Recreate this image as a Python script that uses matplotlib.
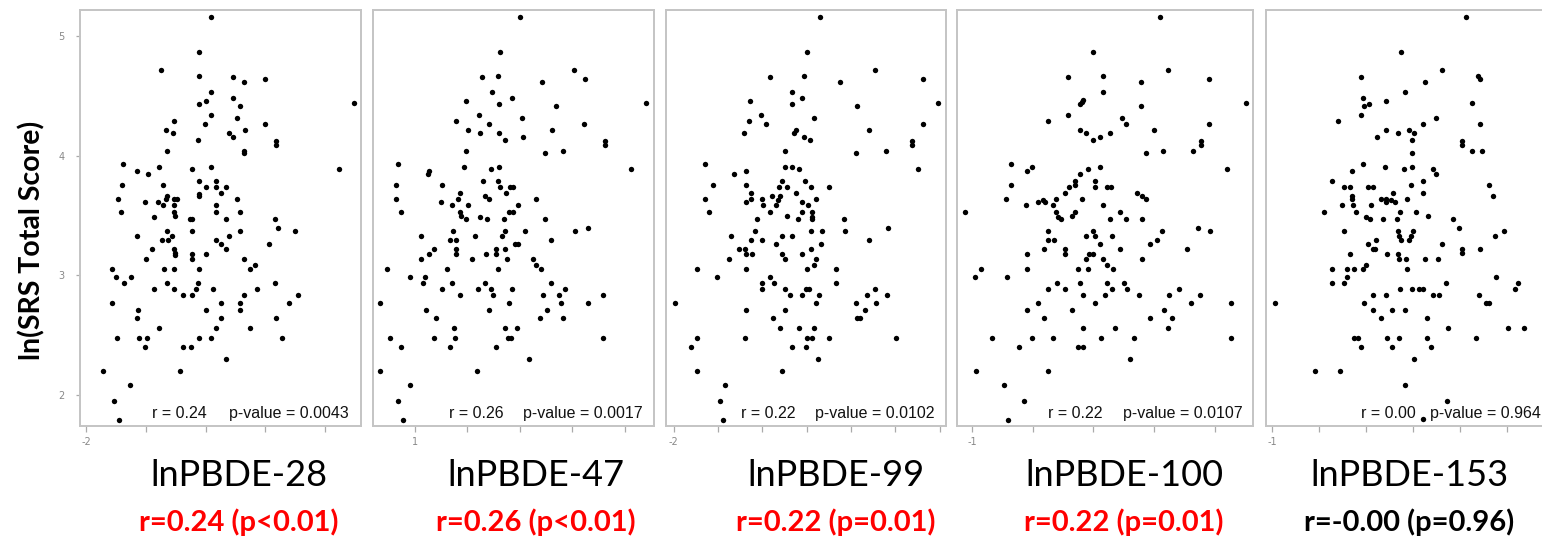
import matplotlib.pyplot as plt

W, H = 1542, 536

# points (x = ln PBDE, y = ln SRS total score)
pbde28 = [(0.09, 5.16), (-0.11, 4.87), (-0.74, 4.72), (-0.11, 4.67), (0.46, 4.66), (0.64, 4.62), (0.99, 4.64),
          (0.09, 4.53), (0.0, 4.46), (-0.11, 4.43), (0.46, 4.48), (0.58, 4.42), (2.49, 4.44), (-0.53, 4.29),
          (0.09, 4.34), (-0.01, 4.27), (0.53, 4.32), (0.99, 4.27), (-0.66, 4.22), (-0.54, 4.19), (0.39, 4.19),
          (0.46, 4.16), (0.66, 4.22), (-0.13, 4.13), (1.18, 4.12), (1.18, 4.09), (-0.65, 4.04), (0.64, 4.04),
          (0.64, 4.02), (-1.38, 3.93), (-0.78, 3.91), (-0.23, 3.89), (0.09, 3.91), (2.24, 3.89), (-1.14, 3.87),
          (-0.97, 3.85), (-0.11, 3.79), (-1.40, 3.76), (-0.72, 3.76), (0.0, 3.74), (-0.11, 3.68), (-0.11, 3.66),
          (0.18, 3.79), (0.18, 3.74), (0.25, 3.69), (0.34, 3.74), (-1.47, 3.64), (-0.65, 3.66), (-0.66, 3.64),
          (-0.53, 3.64), (-0.47, 3.64), (-1.02, 3.61), (-0.79, 3.61), (-0.72, 3.59), (-0.53, 3.59), (0.18, 3.59),
          (0.53, 3.64), (-1.41, 3.53), (-0.53, 3.53), (-0.51, 3.50), (0.18, 3.53), (0.58, 3.53), (-0.87, 3.49),
          (-0.26, 3.47), (-0.22, 3.47), (0.34, 3.47), (1.16, 3.47), (1.22, 3.40), (-0.64, 3.37), (-0.23, 3.37),
          (0.58, 3.37), (1.49, 3.37), (-1.15, 3.33), (-0.56, 3.33), (0.40, 3.33), (-0.73, 3.30), (-0.62, 3.30),
          (0.18, 3.30), (0.25, 3.26), (1.06, 3.26), (-0.90, 3.22), (-0.53, 3.22), (-0.51, 3.19), (0.34, 3.22),
          (-0.23, 3.18), (0.0, 3.18), (-0.51, 3.17), (-0.22, 3.14), (-0.99, 3.14), (0.64, 3.14), (0.83, 3.09),
          (0.74, 3.05), (-1.57, 3.05), (-0.69, 3.05), (-0.52, 3.05), (-0.11, 3.05), (-1.50, 2.99), (-1.25, 2.99),
          (-1.36, 2.94), (-0.65, 2.94), (-0.13, 2.94), (1.16, 2.94), (-0.87, 2.89), (-0.52, 2.89), (-0.16, 2.89),
          (0.13, 2.89), (0.86, 2.89), (-0.37, 2.84), (-0.23, 2.84), (0.64, 2.84), (1.54, 2.84), (-1.56, 2.77),
          (0.25, 2.77), (0.58, 2.77), (1.40, 2.77), (-1.13, 2.71), (0.0, 2.71), (0.58, 2.71), (-1.15, 2.64),
          (0.25, 2.64), (1.18, 2.64), (-0.78, 2.56), (0.18, 2.56), (0.74, 2.56), (-1.48, 2.48), (-1.11, 2.48),
          (-0.98, 2.48), (-0.11, 2.48), (0.09, 2.48), (1.28, 2.48), (-1.02, 2.40), (-0.37, 2.40), (-0.25, 2.40),
          (0.34, 2.30), (-1.72, 2.20), (-0.42, 2.20), (-1.27, 2.08), (-1.53, 1.95), (-1.44, 1.79)]

pbde47 = [(3.01, 5.16), (2.62, 4.87), (4.04, 4.72), (2.28, 4.66), (2.59, 4.67), (4.24, 4.64), (3.42, 4.62),
          (2.47, 4.53), (1.97, 4.46), (2.85, 4.48), (2.60, 4.43), (5.41, 4.44), (3.70, 4.42), (2.22, 4.34),
          (3.04, 4.32), (1.78, 4.29), (2.42, 4.27), (4.23, 4.27), (2.02, 4.22), (3.62, 4.22), (2.25, 4.19),
          (2.61, 4.19), (3.07, 4.16), (2.71, 4.13), (4.62, 4.12), (4.62, 4.09), (1.97, 4.04), (3.49, 4.02),
          (3.82, 4.04), (0.68, 3.93), (1.94, 3.91), (2.61, 3.91), (2.46, 3.89), (5.13, 3.89), (1.27, 3.87),
          (1.24, 3.85), (2.29, 3.79), (1.52, 3.76), (0.63, 3.76), (2.59, 3.79), (2.63, 3.74), (2.81, 3.74),
          (2.87, 3.74), (1.85, 3.69), (2.73, 3.69), (2.34, 3.66), (2.42, 3.64), (0.63, 3.64), (1.82, 3.64),
          (1.49, 3.61), (1.70, 3.59), (2.02, 3.59), (2.96, 3.59), (3.30, 3.64), (0.73, 3.53), (1.85, 3.53),
          (2.80, 3.53), (2.87, 3.53), (1.88, 3.50), (2.25, 3.49), (1.98, 3.47), (2.37, 3.47), (2.70, 3.47),
          (3.48, 3.47), (4.31, 3.40), (1.73, 3.37), (2.72, 3.37), (3.10, 3.37), (4.06, 3.37), (1.11, 3.33),
          (2.15, 3.33), (2.66, 3.33), (1.67, 3.30), (1.79, 3.30), (3.60, 3.30), (2.90, 3.26), (2.96, 3.26),
          (1.36, 3.22), (1.79, 3.22), (2.54, 3.22), (2.71, 3.22), (1.27, 3.18), (1.79, 3.18), (2.35, 3.18),
          (2.55, 3.18), (1.11, 3.14), (2.08, 3.14), (2.76, 3.14), (3.26, 3.14), (3.31, 3.09), (0.46, 3.05),
          (1.61, 3.05), (2.59, 3.05), (3.40, 3.05), (0.90, 2.99), (1.19, 2.99), (1.15, 2.94), (1.70, 2.94),
          (2.34, 2.94), (3.60, 2.94), (1.52, 2.89), (2.21, 2.89), (2.46, 2.89), (2.85, 2.89), (3.87, 2.89),
          (1.85, 2.84), (2.48, 2.84), (3.44, 2.84), (3.75, 2.84), (4.59, 2.84), (0.33, 2.77), (2.79, 2.77),
          (3.79, 2.77), (4.31, 2.77), (1.22, 2.71), (2.41, 2.71), (3.52, 2.71), (1.40, 2.64), (3.39, 2.64),
          (3.83, 2.64), (1.75, 2.56), (2.71, 2.56), (2.94, 2.56), (0.52, 2.48), (1.36, 2.48), (1.77, 2.48),
          (2.78, 2.48), (2.84, 2.48), (4.59, 2.48), (0.73, 2.40), (1.67, 2.40), (2.55, 2.40), (3.18, 2.30),
          (0.33, 2.20), (2.18, 2.20), (0.90, 2.08), (0.68, 1.95), (0.77, 1.79)]

pbde99 = [(1.29, 5.16), (1.01, 4.87), (2.53, 4.72), (0.17, 4.66), (0.95, 4.67), (3.62, 4.64), (1.74, 4.62),
          (0.68, 4.53), (-0.28, 4.46), (0.90, 4.48), (0.68, 4.43), (3.96, 4.44), (2.14, 4.42), (-0.02, 4.34),
          (1.16, 4.32), (-0.30, 4.29), (0.08, 4.27), (3.62, 4.27), (0.76, 4.22), (2.40, 4.22), (-0.41, 4.19),
          (0.72, 4.19), (0.94, 4.16), (1.08, 4.13), (3.38, 4.12), (3.38, 4.09), (0.52, 4.04), (2.11, 4.02),
          (2.79, 4.04), (-1.28, 3.93), (0.51, 3.91), (0.68, 3.91), (0.82, 3.89), (3.51, 3.89), (-0.63, 3.85),
          (-0.37, 3.87), (0.44, 3.79), (0.97, 3.79), (-1.10, 3.76), (-0.37, 3.76), (0.38, 3.74), (0.56, 3.74),
          (1.09, 3.74), (1.51, 3.74), (0.77, 3.69), (-0.26, 3.69), (0.23, 3.66), (0.39, 3.66), (-1.29, 3.64),
          (-0.26, 3.64), (-0.01, 3.64), (1.21, 3.64), (-0.37, 3.61), (0.35, 3.63), (0.89, 3.61), (0.02, 3.59),
          (0.32, 3.59), (1.04, 3.59), (-1.20, 3.53), (0.17, 3.53), (1.11, 3.53), (0.89, 3.53), (0.56, 3.50),
          (1.11, 3.49), (-0.11, 3.47), (0.81, 3.47), (1.84, 3.47), (1.11, 3.47), (2.84, 3.40), (-0.17, 3.37),
          (1.09, 3.37), (1.35, 3.37), (1.86, 3.37), (-0.70, 3.33), (0.45, 3.33), (0.68, 3.33), (-0.26, 3.30),
          (-0.01, 3.30), (2.40, 3.30), (0.32, 3.26), (1.32, 3.26), (-0.53, 3.22), (-0.38, 3.22), (1.09, 3.22),
          (-0.36, 3.18), (-0.24, 3.18), (0.45, 3.18), (0.90, 3.18), (-0.74, 3.14), (0.52, 3.14), (1.21, 3.14),
          (1.17, 3.09), (-1.48, 3.05), (-0.37, 3.05), (1.01, 3.05), (1.65, 3.05), (-1.02, 2.99), (0.17, 2.99),
          (-0.01, 2.94), (0.26, 2.94), (1.65, 2.94), (-0.01, 2.89), (0.52, 2.89), (0.98, 2.89), (1.05, 2.89),
          (2.53, 2.89), (0.62, 2.84), (0.89, 2.84), (1.27, 2.84), (2.36, 2.84), (2.80, 2.84), (-1.96, 2.77),
          (1.21, 2.77), (2.11, 2.77), (2.57, 2.77), (-0.37, 2.71), (0.52, 2.71), (2.32, 2.71), (0.25, 2.64),
          (2.14, 2.64), (2.20, 2.64), (0.40, 2.56), (0.83, 2.56), (1.16, 2.56), (-1.47, 2.48), (-0.39, 2.48),
          (1.01, 2.48), (1.12, 2.48), (1.51, 2.48), (3.02, 2.48), (-1.60, 2.40), (0.68, 2.40), (0.98, 2.40),
          (1.25, 2.30), (-1.48, 2.20), (0.45, 2.20), (-0.85, 2.08), (-0.95, 1.95), (-0.89, 1.79)]

pbde100 = [(2.09, 5.16), (0.99, 4.87), (2.23, 4.72), (0.58, 4.66), (1.15, 4.67), (2.90, 4.64), (1.79, 4.62),
           (1.15, 4.53), (0.83, 4.47), (0.81, 4.45), (0.77, 4.43), (3.52, 4.44), (1.79, 4.42), (0.58, 4.34),
           (1.47, 4.32), (1.53, 4.27), (0.25, 4.29), (2.90, 4.27), (0.78, 4.22), (2.00, 4.22), (0.87, 4.19),
           (1.27, 4.19), (1.10, 4.16), (0.99, 4.13), (2.77, 4.12), (2.77, 4.09), (1.87, 4.02), (2.14, 4.04),
           (2.64, 4.04), (-0.36, 3.93), (-0.01, 3.91), (1.10, 3.91), (0.91, 3.89), (3.20, 3.89), (-0.10, 3.87),
           (0.77, 3.85), (0.69, 3.79), (1.02, 3.79), (-0.36, 3.76), (0.59, 3.74), (0.69, 3.76), (1.02, 3.74),
           (1.23, 3.74), (1.29, 3.74), (0.53, 3.69), (1.71, 3.69), (1.80, 3.66), (-0.45, 3.64), (0.39, 3.64),
           (0.81, 3.64), (1.86, 3.64), (0.09, 3.61), (0.17, 3.63), (0.20, 3.61), (-0.11, 3.59), (0.33, 3.59),
           (1.15, 3.59), (-1.12, 3.53), (0.39, 3.53), (0.69, 3.53), (0.64, 3.50), (0.41, 3.49), (1.43, 3.53),
           (0.46, 3.47), (1.27, 3.47), (1.53, 3.47), (1.80, 3.47), (2.73, 3.40), (0.25, 3.37), (0.99, 3.37),
           (2.13, 3.37), (2.92, 3.37), (0.87, 3.33), (1.03, 3.33), (1.30, 3.33), (2.04, 3.30), (0.25, 3.30),
           (0.35, 3.30), (1.10, 3.26), (1.93, 3.26), (0.19, 3.22), (0.53, 3.22), (1.43, 3.22), (2.55, 3.22),
           (-0.10, 3.18), (0.53, 3.18), (0.92, 3.18), (1.00, 3.18), (0.87, 3.14), (1.15, 3.14), (1.80, 3.14),
           (1.22, 3.09), (-0.85, 3.05), (-0.10, 3.05), (0.74, 3.05), (0.91, 3.05), (1.33, 3.05), (-0.95, 2.99),
           (-0.43, 2.99), (0.40, 2.94), (0.78, 2.94), (1.22, 2.94), (1.50, 2.94), (0.25, 2.89), (0.53, 2.89),
           (1.30, 2.89), (1.56, 2.89), (2.41, 2.89), (0.83, 2.84), (1.19, 2.84), (1.75, 2.84), (2.25, 2.84),
           (2.75, 2.84), (0.09, 2.77), (1.02, 2.77), (2.60, 2.77), (3.26, 2.77), (-0.10, 2.71), (0.64, 2.71),
           (2.16, 2.71), (0.19, 2.64), (1.93, 2.64), (2.29, 2.64), (0.83, 2.56), (1.35, 2.56), (2.23, 2.56),
           (-0.68, 2.48), (-0.01, 2.48), (0.34, 2.48), (1.13, 2.48), (1.66, 2.48), (3.26, 2.48), (-0.23, 2.40),
           (0.74, 2.40), (0.83, 2.40), (1.60, 2.30), (-0.93, 2.20), (0.25, 2.20), (-0.47, 2.08), (-0.14, 1.95),
           (-0.41, 1.79)]

pbde153 = [(3.12, 5.16), (1.74, 4.87), (2.62, 4.72), (0.89, 4.66), (3.37, 4.67), (3.43, 4.64), (2.25, 4.62),
           (1.82, 4.53), (0.93, 4.48), (1.42, 4.46), (0.95, 4.42), (1.06, 4.43), (3.26, 4.44), (0.89, 4.34),
           (2.48, 4.32), (0.41, 4.29), (2.21, 4.27), (3.42, 4.27), (1.42, 4.22), (1.91, 4.22), (1.68, 4.19),
           (2.01, 4.19), (1.23, 4.16), (1.98, 4.13), (3.05, 4.12), (3.05, 4.09), (1.98, 4.02), (3.26, 4.04),
           (3.46, 4.04), (0.93, 3.93), (1.40, 3.91), (1.98, 3.91), (1.80, 3.89), (2.43, 3.89), (0.70, 3.87),
           (2.48, 3.85), (0.27, 3.79), (2.21, 3.79), (1.96, 3.76), (3.62, 3.76), (0.53, 3.74), (0.65, 3.74),
           (1.04, 3.74), (1.15, 3.74), (1.58, 3.69), (2.21, 3.69), (3.70, 3.66), (0.69, 3.66), (0.70, 3.64),
           (1.32, 3.64), (1.43, 3.64), (1.54, 3.63), (1.87, 3.64), (0.48, 3.59), (0.73, 3.59), (1.11, 3.59),
           (1.43, 3.61), (1.61, 3.61), (0.11, 3.53), (0.79, 3.53), (1.72, 3.53), (2.06, 3.53), (2.32, 3.50),
           (1.00, 3.49), (1.08, 3.47), (1.36, 3.47), (1.65, 3.47), (2.85, 3.47), (2.98, 3.40), (0.54, 3.37),
           (1.68, 3.37), (1.99, 3.37), (3.93, 3.37), (1.71, 3.33), (1.96, 3.33), (3.74, 3.33), (1.74, 3.30),
           (1.91, 3.30), (1.21, 3.30), (1.04, 3.26), (2.61, 3.26), (1.15, 3.22), (1.19, 3.22), (3.05, 3.22),
           (3.43, 3.22), (0.65, 3.18), (1.44, 3.18), (1.67, 3.18), (3.05, 3.19), (1.70, 3.14), (1.85, 3.14),
           (2.26, 3.14), (2.54, 3.14), (1.00, 3.09), (0.27, 3.05), (0.60, 3.05), (0.75, 3.05), (0.93, 3.05),
           (1.86, 3.05), (0.60, 2.99), (3.76, 2.99), (0.27, 2.94), (0.54, 2.94), (2.71, 2.94), (4.23, 2.94),
           (4.16, 2.89), (1.72, 2.89), (1.98, 2.89), (2.13, 2.89), (2.22, 2.89), (1.14, 2.84), (1.42, 2.84),
           (2.43, 2.84), (2.56, 2.84), (3.40, 2.84), (-0.93, 2.77), (0.96, 2.77), (3.55, 2.77), (3.61, 2.77),
           (1.14, 2.71), (1.56, 2.71), (1.83, 2.71), (1.32, 2.64), (2.29, 2.64), (2.74, 2.56), (4.01, 2.56),
           (4.35, 2.56), (0.75, 2.48), (0.82, 2.48), (1.44, 2.48), (1.70, 2.48), (2.29, 2.48), (3.33, 2.48),
           (0.89, 2.40), (1.56, 2.40), (2.37, 2.40), (2.01, 2.30), (-0.09, 2.20), (0.45, 2.20), (1.82, 2.08),
           (2.72, 1.95), (2.22, 1.80)]

names = ['lnPBDE-28', 'lnPBDE-47', 'lnPBDE-99', 'lnPBDE-100', 'lnPBDE-153']
r_text = ['r = 0.24', 'r = 0.26', 'r = 0.22', 'r = 0.22', 'r = 0.00']
p_text = ['p-value = 0.0043', 'p-value = 0.0017', 'p-value = 0.0102', 'p-value = 0.0107', 'p-value = 0.964']
summary = ['r=0.24 (p<0.01)', 'r=0.26 (p<0.01)', 'r=0.22 (p=0.01)', 'r=0.22 (p=0.01)', 'r=-0.00 (p=0.96)']
summary_color = ['#ff0000', '#ff0000', '#ff0000', '#ff0000', 'black']
xticks = [[-2, -1, 0, 1, 2], [1, 2, 3, 4, 5], [-2, -1, 0, 1, 2, 3, 4], [-1, 0, 1, 2, 3], [-1, 0, 1, 2, 3, 4, 5]]
yticks = [2, 3, 4, 5]

# layout in pixels
boxes = [(80, 361), (373, 654), (666, 946), (957, 1253), (1266, 1556)]
xlims = [(-2.10, 2.60), (0.20, 5.56), (-2.17, 4.14), (-1.25, 3.63), (-1.13, 5.04)]
r_off = [72, 76, 75, 91, 95]
p_off = [149, 150, 149, 166, 164]
label_x = [239, 536, 836, 1124, 1409]
TOP, BOTTOM = 10, 426

fig = plt.figure(figsize=(W / 100, H / 100), dpi=100)
frame = '#c4c4c4'

for i, data in enumerate([pbde28, pbde47, pbde99, pbde100, pbde153]):
    left, right = boxes[i]
    ax = fig.add_axes([left / W, 1 - BOTTOM / H, (right - left) / W, (BOTTOM - TOP) / H])
    xs, ys = zip(*data)
    ax.scatter(xs, ys, s=15, color='black', linewidths=0, zorder=3)
    ax.set_xlim(*xlims[i])
    ax.set_ylim(1.74, 5.22)
    for sp in ax.spines.values():
        sp.set_color(frame)
        sp.set_linewidth(1.4)
    ax.set_xticks(xticks[i])
    ax.set_xticklabels([str(xticks[i][0])] + [''] * (len(xticks[i]) - 1))
    ax.tick_params(axis='x', length=4, width=0.9, color='#aaaaaa', labelsize=7, labelcolor='#888888', pad=4)
    if i == 0:
        ax.set_yticks(yticks)
        ax.tick_params(axis='y', length=3, width=0.9, color='#aaaaaa', labelsize=7, labelcolor='#888888', pad=8)
    else:
        ax.set_yticks([])
    ax.text(r_off[i] / (right - left), 0.029, r_text[i], transform=ax.transAxes, fontsize=11.5,
            family='Liberation Sans', color='#111111', va='center', ha='left')
    ax.text(p_off[i] / (right - left), 0.029, p_text[i], transform=ax.transAxes, fontsize=11.5,
            family='Liberation Sans', color='#111111', va='center', ha='left')

    fig.text(label_x[i] / W, 1 - 475 / H, names[i], fontsize=26, family='Lato', color='black',
             ha='center', va='center')
    fig.text(label_x[i] / W, 1 - 522 / H, summary[i], fontsize=21, family='Lato', fontweight='bold',
             color=summary_color[i], ha='center', va='center')

fig.text(32 / W, 1 - 240 / H, 'ln(SRS Total Score)', rotation=90, fontsize=20.5, family='Lato',
         fontweight='bold', ha='center', va='center')

fig.savefig('out.png', dpi=100)
